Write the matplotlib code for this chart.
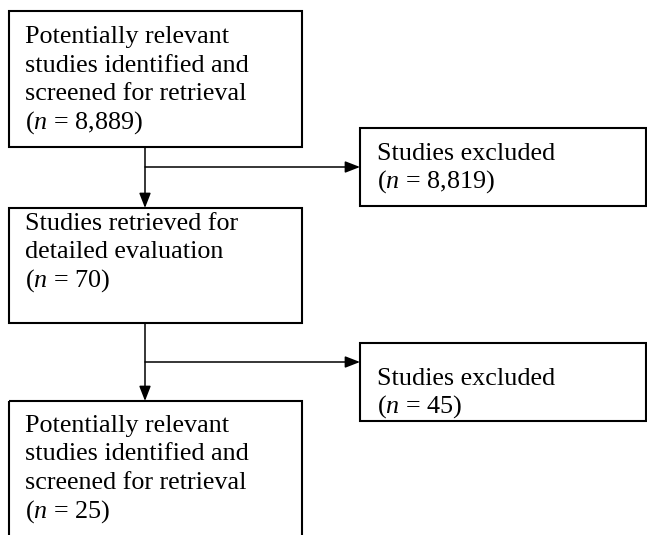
import matplotlib
matplotlib.use("Agg")
import matplotlib.pyplot as plt
from matplotlib.patches import Rectangle

plt.rcParams['font.family'] = ['Liberation Serif', 'DejaVu Serif']
plt.rcParams['mathtext.fontset'] = 'custom'
plt.rcParams['mathtext.rm'] = 'Liberation Serif'
plt.rcParams['mathtext.it'] = 'Liberation Serif:italic'

# ---- data ----
main_labels = [
    ["Potentially relevant", "studies identified and", "screened for retrieval"],
    ["Studies retrieved for", "detailed evaluation"],
    ["Potentially relevant", "studies identified and", "screened for retrieval"],
]
main_counts = [8889, 70, 25]
excluded_labels = ["Studies excluded", "Studies excluded"]
excluded_counts = [8819, 45]

W, H = 647, 535
fig = plt.figure(figsize=(W / 100, H / 100), dpi=100)
ax = fig.add_axes([0, 0, 1, 1])
ax.set_xlim(0, W)
ax.set_ylim(H, 0)
ax.axis('off')

FS = 18.8
LINE = 28.5
BOX_LW = 1.5
ARR_LW = 1.1

# layout (pixels)
main_boxes = [(9, 11, 302, 147), (9, 208, 302, 323), (9, 401, 302, 560)]
main_first_baseline = [43, 230, 432]
exc_boxes = [(360, 128, 646, 206), (360, 343, 646, 421)]
exc_first_baseline = [160, 385]
stem_x = 145
branch_y = [167, 362]


def count_text(n):
    return r"($\mathit{n}$ = " + f"{n:,}" + ")"


for (x0, y0, x1, y1), lines, n, b0 in zip(main_boxes, main_labels, main_counts, main_first_baseline):
    ax.add_patch(Rectangle((x0, y0), x1 - x0, y1 - y0, fill=False, lw=BOX_LW,
                           edgecolor='black', clip_on=True))
    for i, t in enumerate(lines + [count_text(n)]):
        ax.text(25, b0 + i * LINE, t, fontsize=FS, va='baseline', ha='left', color='black')

for (x0, y0, x1, y1), lab, n, b0 in zip(exc_boxes, excluded_labels, excluded_counts, exc_first_baseline):
    ax.add_patch(Rectangle((x0, y0), x1 - x0, y1 - y0, fill=False, lw=BOX_LW,
                           edgecolor='black'))
    ax.text(377, b0, lab, fontsize=FS, va='baseline', ha='left', color='black')
    ax.text(377, b0 + 28, count_text(n), fontsize=FS, va='baseline', ha='left', color='black')

arrow_style = dict(arrowstyle='-|>,head_length=0.9,head_width=0.35', lw=ARR_LW,
                   color='black', shrinkA=0, shrinkB=0, mutation_scale=10)

for k in range(2):
    top = main_boxes[k][3]
    bottom = main_boxes[k + 1][1]
    ax.annotate('', xy=(stem_x, bottom), xytext=(stem_x, top), arrowprops=arrow_style)
    ax.annotate('', xy=(exc_boxes[k][0], branch_y[k]), xytext=(stem_x, branch_y[k]),
                arrowprops=arrow_style)

fig.savefig('out.png', dpi=100, facecolor='white')
